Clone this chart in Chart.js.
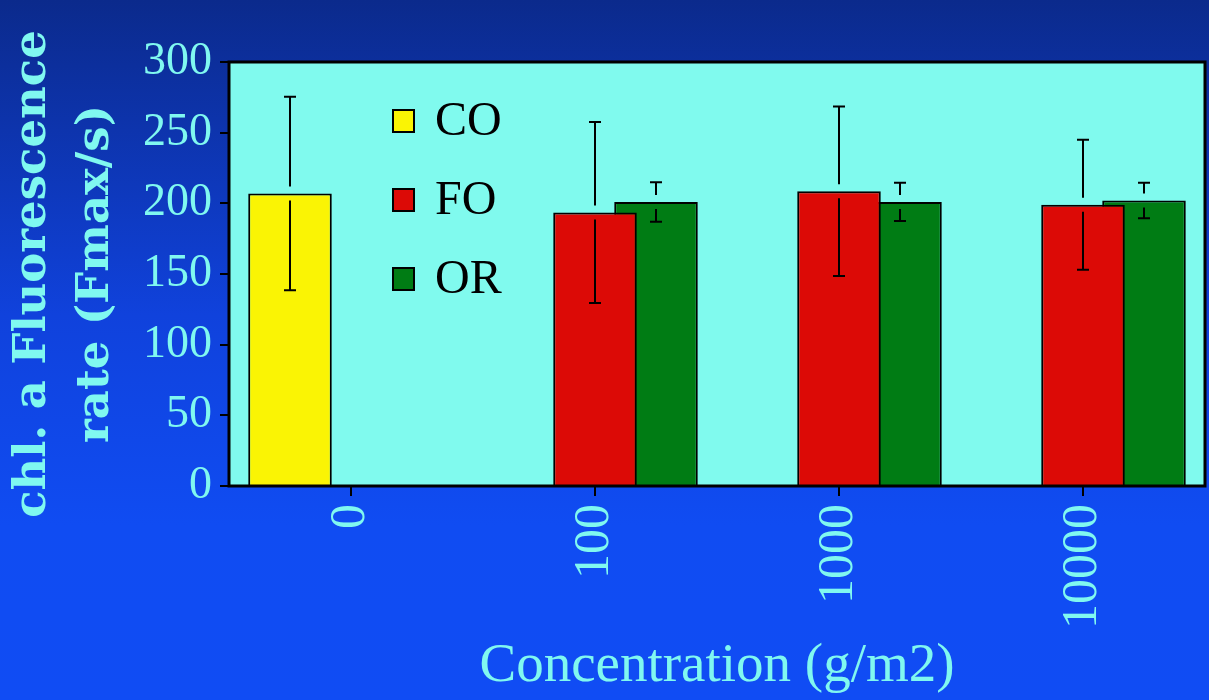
<!DOCTYPE html>
<html>
<head>
<meta charset="utf-8">
<script src="https://cdn.jsdelivr.net/npm/chart.js@4"></script>
<style>
  html, body { margin: 0; padding: 0; }
  body {
    width: 1209px; height: 700px; overflow: hidden;
    background: linear-gradient(#0b2a8c 0%, #1042dc 45%, #104cf2 75%, #104cf4 100%);
  }
  canvas { display: block; }
</style>
</head>
<body>
<canvas id="chart" width="1209" height="700"></canvas>
<script>
const categories = ['0', '100', '1000', '10000'];
const coValues = [207, null, null, null];
const coErrors = [68.5, null, null, null];
const foValues = [null, 193.5, 208.5, 199];
const foErrors = [null, 64, 60, 46];
const orValues = [null, 201, 201, 202];
const orErrors = [null, 14, 13.5, 12.5];
const yMin = 0, yMax = 300, yStep = 50;

const CYAN = '#80faee';
const LABEL = '#80f8f0';

// fondo cian del área de trazado + marco negro
const plotBg = {
  id: 'plotBg',
  beforeDraw(chart) {
    const { ctx, chartArea: a } = chart;
    ctx.save();
    ctx.fillStyle = CYAN;
    ctx.fillRect(a.left, a.top, a.right - a.left, a.bottom - a.top);
    ctx.restore();
  },
  afterDatasetsDraw(chart) {
    const { ctx, chartArea: a } = chart;
    ctx.save();
    ctx.strokeStyle = '#000';
    ctx.lineWidth = 3;
    ctx.strokeRect(a.left, a.top, a.right - a.left, a.bottom - a.top);
    ctx.restore();
  }
};

// barras de error, cortadas alrededor del borde superior de la barra
const errorBars = {
  id: 'errorBars',
  afterDatasetsDraw(chart) {
    const ctx = chart.ctx, y = chart.scales.y;
    ctx.save();
    ctx.strokeStyle = '#000';
    ctx.lineWidth = 2;
    chart.data.datasets.forEach((ds, i) => {
      const meta = chart.getDatasetMeta(i);
      meta.data.forEach((bar, j) => {
        const v = ds.data[j], e = ds.errors[j];
        if (v == null || e == null) return;
        const top = y.getPixelForValue(v + e);
        const bot = y.getPixelForValue(v - e);
        const gap = 7, cap = 6;
        ctx.beginPath();
        ctx.moveTo(bar.x, top); ctx.lineTo(bar.x, bar.y - gap);
        ctx.moveTo(bar.x, bar.y + gap); ctx.lineTo(bar.x, bot);
        ctx.moveTo(bar.x - cap, top); ctx.lineTo(bar.x + cap, top);
        ctx.moveTo(bar.x - cap, bot); ctx.lineTo(bar.x + cap, bot);
        ctx.stroke();
      });
    });
    ctx.restore();
  }
};

// leyenda dentro del área de trazado
const insideLegend = {
  id: 'insideLegend',
  afterDraw(chart) {
    const { ctx, chartArea: a } = chart;
    ctx.save();
    chart.data.datasets.forEach((ds, i) => {
      const x = a.left + 164, cy = a.top + 59 + i * 79;
      ctx.fillStyle = ds.backgroundColor;
      ctx.fillRect(x, cy - 11, 21, 22);
      ctx.strokeStyle = '#000';
      ctx.lineWidth = 2;
      ctx.strokeRect(x, cy - 11, 21, 22);
      ctx.fillStyle = '#000';
      ctx.font = '48px "Liberation Serif"';
      ctx.textBaseline = 'alphabetic';
      ctx.fillText(ds.label, x + 42, cy + 14);
    });
    ctx.restore();
  }
};

function barSet(label, data, errors, color) {
  return {
    label, data, errors,
    backgroundColor: color,
    borderColor: '#000',
    borderWidth: 2,
    borderSkipped: 'bottom',
    categoryPercentage: 0.75,
    barPercentage: 1.37,
  };
}

new Chart(document.getElementById('chart'), {
  type: 'bar',
  data: {
    labels: categories,
    datasets: [
      barSet('CO', coValues, coErrors, '#faf404'),
      barSet('FO', foValues, foErrors, '#dc0a06'),
      barSet('OR', orValues, orErrors, '#007c14'),
    ],
  },
  options: {
    responsive: false,
    animation: false,
    layout: { padding: { top: 62, right: 4, left: 0, bottom: 0 } },
    plugins: { legend: { display: false }, tooltip: { enabled: false } },
    scales: {
      x: {
        offset: true,
        grid: { offset: false, drawOnChartArea: false, drawTicks: true, tickLength: 10, tickColor: '#000', lineWidth: 2 },
        border: { display: false },
        ticks: {
          color: LABEL, autoSkip: false, minRotation: 90, maxRotation: 90, padding: 8,
          font: { family: 'Liberation Serif', size: 50 },
        },
        title: {
          display: true, text: 'Concentration (g/m2)', color: LABEL,
          font: { family: 'Liberation Serif', size: 55 }, padding: { top: 0, bottom: 0 },
        },
        afterFit(scale) { scale.height = 214; },
      },
      y: {
        min: yMin, max: yMax,
        grid: { drawOnChartArea: false, drawTicks: true, tickLength: 9, tickColor: '#000', lineWidth: 2 },
        border: { display: false },
        ticks: {
          stepSize: yStep, color: LABEL, padding: 8,
          font: { family: 'Liberation Serif', size: 46 },
        },
        title: {
          display: true, text: ['chl. a Fluorescence', 'rate (Fmax/s)'], color: LABEL,
          font: { family: 'DejaVu Serif', size: 45, weight: 'bold', lineHeight: 1.4 }, padding: { top: 2, bottom: 0 },
        },
        afterFit(scale) { scale.width = 229; },
      },
    },
  },
  plugins: [plotBg, errorBars, insideLegend],
});
</script>
</body>
</html>
